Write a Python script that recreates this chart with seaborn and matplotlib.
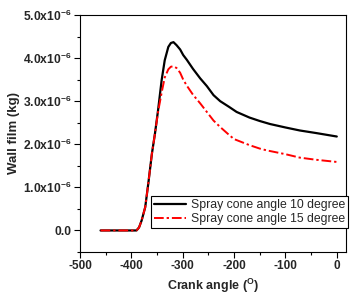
import numpy as np
import pandas as pd
import matplotlib
matplotlib.use('Agg')
import matplotlib.pyplot as plt
import seaborn as sns

# crank angle (deg) and wall film mass (x1e-6 kg)
crank_10 = [-460, -440, -420, -400, -390, -385, -380, -373, -367, -360, -354, -348,
            -341, -335, -328, -323, -318, -312, -305, -299, -292, -280, -266, -253,
            -240, -227, -210, -195, -170, -150, -130, -100, -72, -40, 0]
film_10 = [0, 0, 0, 0, 0, 0.07, 0.23, 0.54, 1.09, 1.78, 2.25, 2.79,
           3.49, 3.95, 4.26, 4.35, 4.37, 4.3, 4.2, 4.07, 3.96, 3.75, 3.53, 3.35,
           3.14, 3.0, 2.87, 2.75, 2.62, 2.54, 2.47, 2.39, 2.32, 2.26, 2.18]

crank_15 = [-460, -440, -420, -400, -390, -385, -380, -373, -367, -360, -354, -348,
            -341, -335, -328, -323, -318, -312, -305, -299, -292, -280, -266, -253,
            -240, -227, -210, -200, -170, -150, -137, -100, -72, -40, 0]
film_15 = [0, 0, 0, 0, 0, 0.07, 0.23, 0.54, 1.09, 1.78, 2.25, 2.75,
           3.2, 3.55, 3.74, 3.8, 3.81, 3.77, 3.66, 3.5, 3.36, 3.15, 2.95, 2.75,
           2.55, 2.40, 2.22, 2.12, 1.98, 1.9, 1.86, 1.77, 1.69, 1.64, 1.59]

series_names = ["Spray cone angle 10 degree", "Spray cone angle 15 degree"]

x_ticks = [-500, -400, -300, -200, -100, 0]
x_tick_labels = ["-500", "-400", "-300", "-200", "-100", "0"]
y_ticks = [0.0, 1e-6, 2e-6, 3e-6, 4e-6, 5e-6]
y_tick_labels = ["0.0", "1.0x10$^{-6}$", "2.0x10$^{-6}$", "3.0x10$^{-6}$",
                 "4.0x10$^{-6}$", "5.0x10$^{-6}$"]

df = pd.concat([
    pd.DataFrame({"crank": crank_10, "film": np.array(film_10) * 1e-6, "case": series_names[0]}),
    pd.DataFrame({"crank": crank_15, "film": np.array(film_15) * 1e-6, "case": series_names[1]}),
])

sns.set_theme(style="ticks")
plt.rcParams['font.family'] = ['Liberation Sans', 'DejaVu Sans']
plt.rcParams['mathtext.default'] = 'regular'

fig = plt.figure(figsize=(3.56, 3.0), dpi=100)
ax = fig.add_axes([0.2247, 0.16, 0.7473, 0.79])

sns.lineplot(data=df, x="crank", y="film", hue="case", style="case",
             palette=["black", "red"], dashes=[(None, None), (5, 1.5, 1.2, 1.5)],
             ax=ax, sort=False)
for ln, lw in zip(ax.get_lines(), [1.6, 1.4]):
    ln.set_linewidth(lw)

ax.set_xlim(-500, 18)
ax.set_ylim(-0.5e-6, 5e-6)
ax.set_xticks(x_ticks)
ax.set_xticklabels(x_tick_labels, fontweight='bold', fontsize=8.5)
ax.set_yticks(y_ticks)
ax.set_yticklabels(y_tick_labels, fontweight='bold', fontsize=8.7)
ax.set_xticks(np.arange(-450, 18, 100), minor=True)
ax.set_yticks(np.arange(-0.5e-6, 5e-6, 1e-6), minor=True)
ax.tick_params(which='major', direction='out', length=4, width=0.8, color='black', pad=2)
ax.tick_params(which='minor', direction='out', length=2.5, width=0.8, color='black')
for s in ax.spines.values():
    s.set_color('black')
    s.set_linewidth(0.8)

ax.set_xlabel("Crank angle ($^{O}$)", fontweight='bold', fontsize=9, labelpad=3)
ax.set_ylabel("Wall film (kg)", fontweight='bold', fontsize=9.5, labelpad=2)

leg = ax.legend(loc='lower right', bbox_to_anchor=(1.008, 0.1), fontsize=8.8,
                frameon=True, fancybox=False, handlelength=2.6, handletextpad=0.4,
                borderpad=0.25, labelspacing=0.2, borderaxespad=0)
leg.get_frame().set_edgecolor('black')
leg.get_frame().set_linewidth(0.8)
leg.get_frame().set_alpha(1)
for h, lw in zip(leg.get_lines(), [1.6, 1.4]):
    h.set_linewidth(lw)

fig.savefig("out.png", dpi=100)
